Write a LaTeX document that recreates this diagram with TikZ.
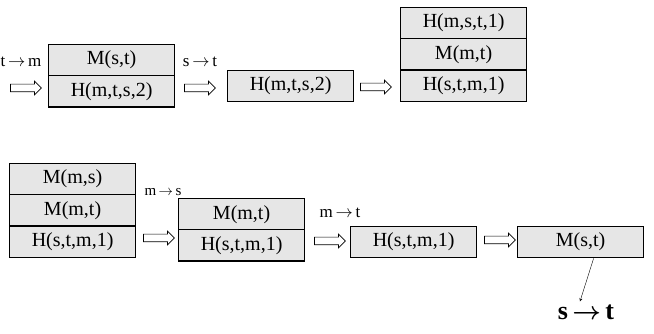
\documentclass[tikz,border=0pt]{standalone}
\usepackage{fontspec}
\usepackage{amsmath}
\setmainfont{Liberation Serif}
\usetikzlibrary{shapes.multipart, shapes.arrows, arrows}
\definecolor{cellgray}{RGB}{230,230,230}
\tikzstyle{stack} = [rectangle split, draw=black, line width=1.2pt, fill=cellgray, minimum width=126pt, inner xsep=4pt, inner ysep=3pt, text centered, font=\fontsize{20}{24}\selectfont, anchor=north west]
\tikzstyle{hollow} = [single arrow, draw=black, fill=white, line width=0.7pt, minimum height=31pt, minimum width=13pt, single arrow head extend=3pt, inner xsep=0pt, inner ysep=3.5pt]
\tikzstyle{move} = [font=\fontsize{17}{20}\selectfont, inner sep=0pt]
\tikzstyle{arrow} = [thin,->,>=stealth]

\begin{document}
\begin{tikzpicture}[x=1pt, y=-1pt]
        \useasboundingbox (0,0) rectangle (654,334);
        % first row
        \node (s1) [stack, rectangle split parts=2] at (48,44) {\strut M(s,t)\nodepart{two}\strut H(m,t,s,2)};
        \node (s2) [stack, rectangle split parts=1] at (227,70) {\strut H(m,t,s,2)};
        \node (s3) [stack, rectangle split parts=3] at (400,7) {\strut H(m,s,t,1)\nodepart{two}\strut M(m,t)\nodepart{three}\strut H(s,t,m,1)};
        \node (a1) [hollow] at (24,88) {};
        \node (a2) [hollow] at (198,88) {};
        \node (a3) [hollow] at (374,87) {};
        \node (l1) [move] at (21,62) {t\,$\rightarrow$\,m};
        \node (l2) [move] at (200,62) {s\,$\rightarrow$\,t};

        % second row
        \node (s4) [stack, rectangle split parts=3] at (9,163) {\strut M(m,s)\nodepart{two}\strut M(m,t)\nodepart{three}\strut H(s,t,m,1)};
        \node (s5) [stack, rectangle split parts=2] at (178,198) {\strut M(m,t)\nodepart{two}\strut H(s,t,m,1)};
        \node (s6) [stack, rectangle split parts=1] at (350,226) {\strut H(s,t,m,1)};
        \node (fin) [stack, rectangle split parts=1] at (517,226) {\strut M(s,t)};
        \node (a4) [hollow] at (157,238) {};
        \node (a5) [hollow] at (328,241) {};
        \node (a6) [hollow] at (498,240) {};
        \node (l3) [move, font=\fontsize{15}{18}\selectfont] at (163,192) {m\,$\rightarrow$\,s};
        \node (l4) [move] at (340,213) {m\,$\rightarrow$\,t};
        \node (res) [inner sep=0pt, font=\bfseries\fontsize{26}{30}\selectfont] at (586,312) {s\,$\boldsymbol{\rightarrow}$\,t};

        \draw [arrow] ([xshift=13pt]fin.south) -- ([xshift=-6pt,yshift=3pt]res.north);
    \end{tikzpicture}
\end{document}
